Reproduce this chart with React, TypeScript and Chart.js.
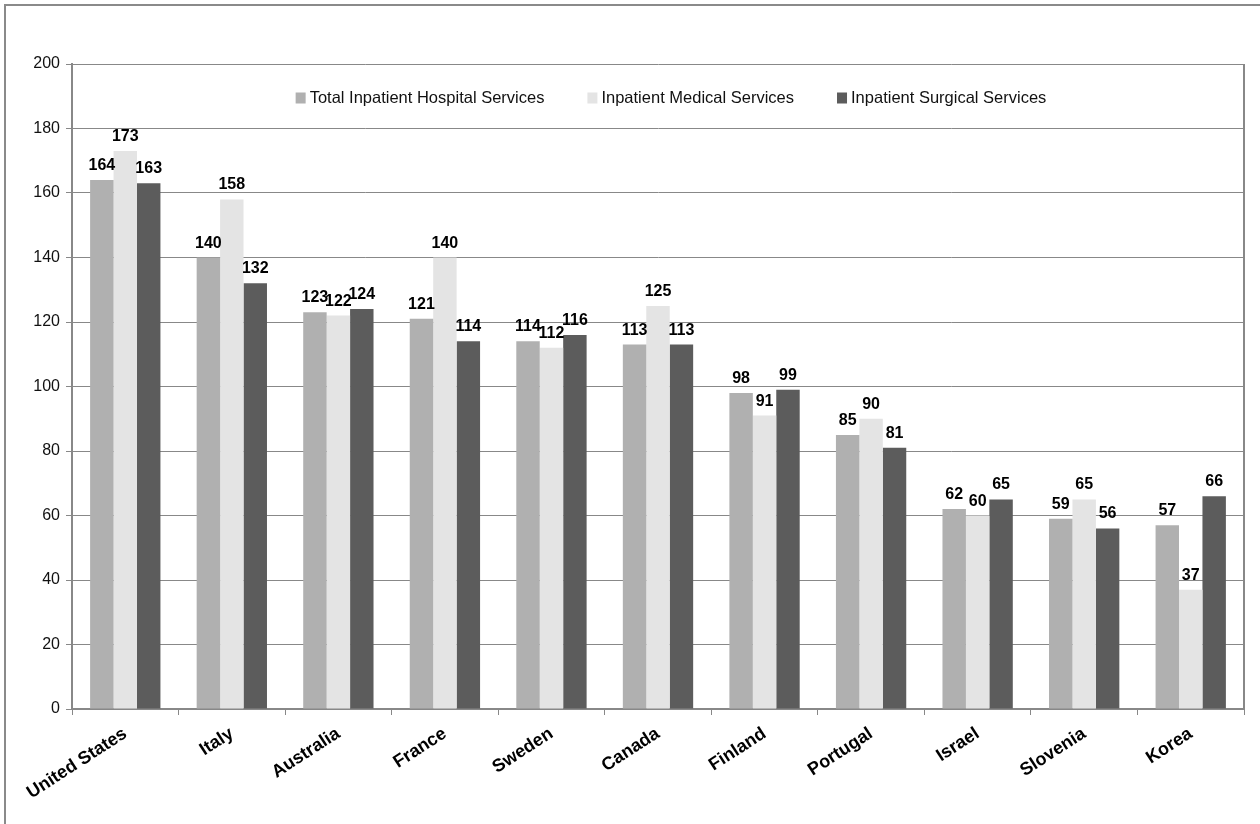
import React, { useEffect, useRef } from "react";
import { Chart, registerables } from "chart.js";

Chart.register(...registerables);

const countries = ["United States", "Italy", "Australia", "France", "Sweden", "Canada", "Finland", "Portugal", "Israel", "Slovenia", "Korea"];
const totalInpatient = [164, 140, 123, 121, 114, 113, 98, 85, 62, 59, 57];
const medicalInpatient = [173, 158, 122, 140, 112, 125, 91, 90, 60, 65, 37];
const surgicalInpatient = [163, 132, 124, 114, 116, 113, 99, 81, 65, 56, 66];
const seriesLabels = ["Total Inpatient Hospital Services", "Inpatient Medical Services", "Inpatient Surgical Services"];
const seriesColors = ["#b0b0b0", "#e4e4e4", "#5c5c5c"];

const FONT = "'Liberation Sans', Arial, sans-serif";
const GRID = "#888888";

const framePlugin = {
  id: "frame",
  beforeDraw(chart: any) {
    const ctx = chart.ctx;
    ctx.save();
    ctx.fillStyle = "#ffffff";
    ctx.fillRect(0, 0, chart.width, chart.height);
    ctx.strokeStyle = "#8a8a8a";
    ctx.lineWidth = 2;
    ctx.beginPath();
    ctx.moveTo(5, chart.height);
    ctx.lineTo(5, 5);
    ctx.lineTo(chart.width, 5);
    ctx.stroke();
    ctx.restore();
  },
  afterDraw(chart: any) {
    const ctx = chart.ctx;
    const a = chart.chartArea;
    ctx.save();
    ctx.strokeStyle = GRID;
    ctx.lineWidth = 2;
    ctx.beginPath();
    ctx.moveTo(a.right, a.top);
    ctx.lineTo(a.right, a.bottom);
    ctx.stroke();
    ctx.restore();
  },
};

const valueLabelPlugin = {
  id: "valueLabels",
  afterDatasetsDraw(chart: any) {
    const ctx = chart.ctx;
    ctx.save();
    ctx.font = `bold 16px ${FONT}`;
    ctx.fillStyle = "#000000";
    ctx.textAlign = "center";
    ctx.textBaseline = "alphabetic";
    chart.data.datasets.forEach((ds: any, i: number) => {
      const meta = chart.getDatasetMeta(i);
      meta.data.forEach((bar: any, j: number) => {
        ctx.fillText(String(ds.data[j]), bar.x, bar.y - 10);
      });
    });
    ctx.restore();
  },
};

const legendPlugin = {
  id: "innerLegend",
  afterDraw(chart: any) {
    const ctx = chart.ctx;
    const a = chart.chartArea;
    ctx.save();
    ctx.font = `16.5px ${FONT}`;
    ctx.textBaseline = "middle";
    ctx.textAlign = "left";
    const box = 10;
    const boxGap = 4;
    const itemGap = 43;
    const widths = chart.data.datasets.map((ds: any) => box + boxGap + ctx.measureText(ds.label).width);
    const total = widths.reduce((s: number, w: number) => s + w, 0) + itemGap * (widths.length - 1);
    let x = (a.left + a.right) / 2 + 13 - total / 2;
    const y = a.top + 34;
    chart.data.datasets.forEach((ds: any, i: number) => {
      ctx.fillStyle = ds.backgroundColor;
      ctx.fillRect(x, y - 5.5, box, 11);
      ctx.fillStyle = "#111111";
      ctx.fillText(ds.label, x + box + boxGap, y);
      x += widths[i] + itemGap;
    });
    ctx.restore();
  },
};

export default function App() {
  const ref = useRef<HTMLCanvasElement | null>(null);
  useEffect(() => {
    if (!ref.current) return;
    const chart = new Chart(ref.current, {
      type: "bar",
      data: {
        labels: countries,
        datasets: [
          { label: seriesLabels[0], data: totalInpatient, backgroundColor: seriesColors[0] },
          { label: seriesLabels[1], data: medicalInpatient, backgroundColor: seriesColors[1] },
          { label: seriesLabels[2], data: surgicalInpatient, backgroundColor: seriesColors[2] },
        ],
      },
      options: {
        responsive: false,
        animation: false,
        layout: { padding: { left: 0, top: 64, right: 16, bottom: 0 } },
        datasets: { bar: { categoryPercentage: 0.66, barPercentage: 1.0 } },
        plugins: {
          legend: { display: false },
          tooltip: { enabled: false },
          title: { display: false },
        },
        scales: {
          x: {
            grid: { drawOnChartArea: false, drawTicks: true, tickLength: 6, offset: true, color: GRID, lineWidth: 1 },
            border: { color: GRID, width: 2 },
            ticks: {
              minRotation: 33,
              maxRotation: 33,
              autoSkip: false,
              padding: 8,
              color: "#000000",
              font: { family: FONT, size: 18, weight: "bold" },
            },
            afterFit(scale: any) {
              scale.height = 115;
            },
          },
          y: {
            min: 0,
            max: 200,
            ticks: { stepSize: 20, padding: 6, color: "#111111", font: { family: FONT, size: 16 } },
            grid: { color: GRID, lineWidth: 1, tickLength: 6 },
            border: { color: GRID, width: 2 },
            afterFit(scale: any) {
              scale.width = 72;
            },
          },
        },
      },
      plugins: [framePlugin, valueLabelPlugin, legendPlugin],
    });
    return () => chart.destroy();
  }, []);
  return (
    <div style={{ position: "absolute", left: 0, top: 0, width: 1260, height: 824 }}>
      <canvas ref={ref} width={1260} height={824} />
    </div>
  );
}
